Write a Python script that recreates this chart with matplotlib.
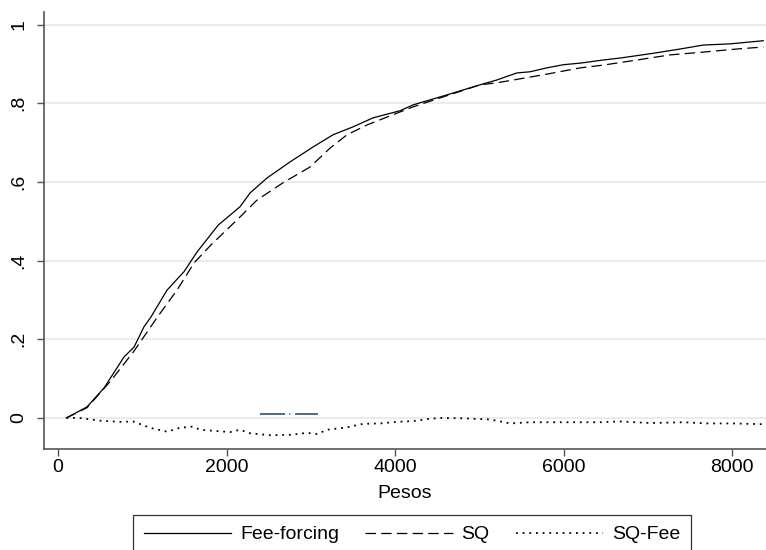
import matplotlib
matplotlib.use("Agg")
import matplotlib.pyplot as plt

plt.rcParams["font.family"] = ["Liberation Sans", "DejaVu Sans"]
plt.rcParams["lines.scale_dashes"] = False

# Cumulative share by amount in pesos
fee_x = [100, 344, 546, 783, 902, 1021, 1104, 1294, 1496, 1650, 1900, 2160, 2279,
         2480, 2754, 3027, 3264, 3501, 3739, 4059, 4214, 4611, 5009, 5205, 5443,
         5600, 5800, 5996, 6196, 6469, 6671, 7062, 7383, 7656, 7976, 8368]
fee_y = [0.0, 0.028, 0.076, 0.155, 0.18, 0.232, 0.257, 0.325, 0.372, 0.422, 0.49,
         0.537, 0.572, 0.61, 0.651, 0.689, 0.72, 0.74, 0.763, 0.781, 0.796, 0.821,
         0.847, 0.859, 0.877, 0.88, 0.89, 0.898, 0.902, 0.91, 0.915, 0.927, 0.938,
         0.948, 0.951, 0.959]

sq_x = [100, 344, 629, 902, 1175, 1412, 1614, 1816, 2160, 2362, 2671, 2991, 3228,
        3430, 3668, 3905, 4059, 4214, 4611, 5009, 5205, 5400, 5800, 6196, 6469,
        6872, 7264, 7656, 8059, 8368]
sq_y = [0.0, 0.026, 0.095, 0.17, 0.255, 0.325, 0.394, 0.44, 0.511, 0.554, 0.598,
        0.638, 0.686, 0.72, 0.745, 0.765, 0.778, 0.791, 0.819, 0.847, 0.852, 0.859,
        0.874, 0.89, 0.897, 0.91, 0.923, 0.93, 0.938, 0.943]

diff_x = [100, 250, 499, 736, 890, 1092, 1294, 1448, 1602, 1685, 2042, 2160, 2279,
          2516, 2754, 2955, 3074, 3193, 3430, 3620, 3822, 4024, 4214, 4415, 4534,
          4807, 5128, 5365, 5602, 6433, 6670, 7027, 7419, 7703, 8012, 8368]
diff_y = [0.0, 0.0, -0.007, -0.01, -0.009, -0.025, -0.035, -0.025, -0.022, -0.03,
          -0.036, -0.03, -0.039, -0.044, -0.043, -0.038, -0.041, -0.03, -0.024,
          -0.015, -0.014, -0.01, -0.008, -0.002, 0.0, -0.001, -0.004, -0.014,
          -0.011, -0.011, -0.009, -0.013, -0.011, -0.014, -0.014, -0.016]

ref_x = [2400, 3085]
ref_y = [0.01, 0.01]

y_ticks = [0, 0.2, 0.4, 0.6, 0.8, 1.0]
y_labels = ["0", ".2", ".4", ".6", ".8", "1"]
x_ticks = [0, 2000, 4000, 6000, 8000]

fig = plt.figure(figsize=(7.66, 5.5), dpi=100)
ax = fig.add_axes([44 / 766, 1 - 449 / 550, 1 - 44 / 766, (449 - 12) / 550])

ax.plot(fee_x, fee_y, color="black", lw=0.9, label="Fee-forcing")
ax.plot(sq_x, sq_y, color="black", lw=0.9, dashes=(7.5, 3.8), label="SQ")
ax.plot(diff_x, diff_y, color="black", lw=1.3, dashes=(1.3, 3.5), label="SQ-Fee")
ax.plot(ref_x, ref_y, color="#1a476f", lw=1.1, dashes=(18, 3, 0.8, 3.5))

ax.set_xlim(-166, 8400)
ax.set_ylim(-0.079, 1.032)
ax.set_yticks(y_ticks)
ax.set_yticklabels(y_labels, rotation=90, va="center")
ax.set_xticks(x_ticks)
ax.grid(axis="y", color="#e6e6e6", lw=1.1)
ax.set_axisbelow(True)

for s in ["top", "right"]:
    ax.spines[s].set_visible(False)
for s in ["left", "bottom"]:
    ax.spines[s].set_color("#555555")
    ax.spines[s].set_linewidth(1.2)

ax.tick_params(axis="both", colors="#555555", labelcolor="black", labelsize=14,
               length=5, width=1.0)
ax.tick_params(axis="y", pad=7)
ax.tick_params(axis="x", pad=2.5)
ax.set_xlabel("Pesos", fontsize=14, labelpad=6)

leg = fig.legend(loc="upper left", bbox_to_anchor=(133 / 766, 1 - 515 / 550),
                 ncol=3, fontsize=14, frameon=True, fancybox=False,
                 edgecolor="black", handlelength=4.5, handletextpad=0.45,
                 columnspacing=1.35, borderpad=0.55, borderaxespad=0)
leg.get_frame().set_linewidth(0.9)

fig.savefig("out.png", dpi=100)
